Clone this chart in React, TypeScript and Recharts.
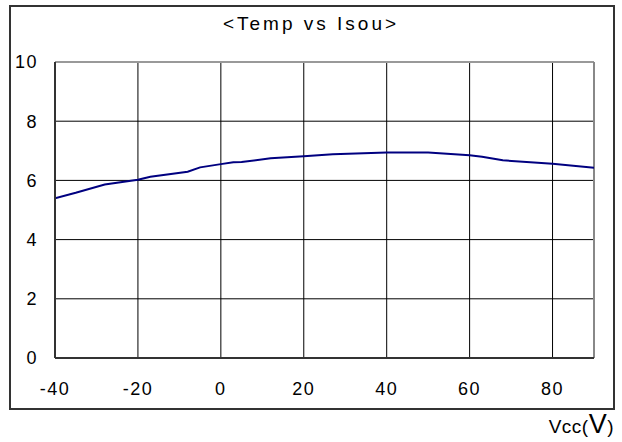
import { CartesianGrid, Line, LineChart, ReferenceLine, XAxis, YAxis } from "recharts";

// 温度 (°C)
const temps = [-40, -35, -28, -20, -17, -8, -5, 0, 3, 5, 12, 20, 27, 40, 50, 60, 63, 68, 80, 90];
// Isou
const isou = [
	5.4, 5.58, 5.86, 6.02, 6.12, 6.29, 6.44, 6.55, 6.61, 6.62, 6.75, 6.82, 6.88, 6.94, 6.94, 6.85,
	6.8, 6.68, 6.56, 6.43,
];
const xTicks = [-40, -20, 0, 20, 40, 60, 80];
const yTicks = [0, 2, 4, 6, 8, 10];

const data = temps.map((t, i) => ({ temp: t, isou: isou[i] }));

const FONT = "'Liberation Sans', Arial, sans-serif";
const tickStyle = { fontSize: 18, fill: "#000", fontFamily: FONT, letterSpacing: 1.5 };

export default function App() {
	return (
		<div style={{ position: "absolute", left: 0, top: 0, width: 622, height: 442, background: "#fff" }}>
			<div
				style={{
					position: "absolute",
					left: 9,
					top: 5,
					width: 606,
					height: 405,
					boxSizing: "border-box",
					border: "2px solid #333",
				}}
			/>
			<LineChart
				width={622}
				height={442}
				data={data}
				margin={{ top: 62, right: 28, bottom: 54, left: 0 }}
				style={{ position: "absolute", left: 0, top: 0 }}
			>
				<CartesianGrid stroke="#000" strokeWidth={1} horizontalValues={yTicks} verticalValues={xTicks} />
				<XAxis
					dataKey="temp"
					type="number"
					domain={[-40, 90]}
					ticks={xTicks}
					allowDataOverflow
					height={30}
					tickLine={false}
					tickSize={0}
					tickMargin={24}
					axisLine={{ stroke: "#333", strokeWidth: 2 }}
					tick={tickStyle}
				/>
				<YAxis
					type="number"
					domain={[0, 10]}
					ticks={yTicks}
					width={55}
					tickLine={false}
					tickSize={0}
					tickMargin={17}
					axisLine={{ stroke: "#333", strokeWidth: 2 }}
					tick={tickStyle}
				/>
				<ReferenceLine y={10} stroke="#999" strokeWidth={2} />
				<ReferenceLine x={90} stroke="#888" strokeWidth={2} />
				<Line
					type="linear"
					dataKey="isou"
					stroke="#000080"
					strokeWidth={2}
					dot={false}
					activeDot={false}
					isAnimationActive={false}
				/>
			</LineChart>
			<svg width={622} height={442} style={{ position: "absolute", left: 0, top: 0, pointerEvents: "none" }}>
				<text x={311} y={30} textAnchor="middle" fontSize={19} fontFamily={FONT} letterSpacing={3} fill="#000">
					{"<Temp vs Isou>"}
				</text>
				<text x={614} y={433} textAnchor="end" fontSize={19} fontFamily={FONT} letterSpacing={0.5} fill="#000">
					Vcc(<tspan fontSize={27}>V</tspan>)
				</text>
			</svg>
		</div>
	);
}
